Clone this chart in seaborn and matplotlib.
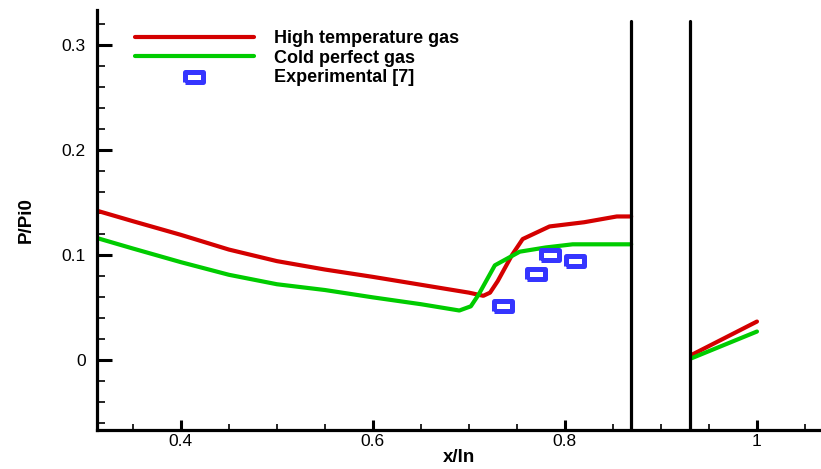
import numpy as np
import pandas as pd
import matplotlib
matplotlib.use("Agg")
import matplotlib.pyplot as plt
from matplotlib.ticker import MultipleLocator, FixedLocator, FixedFormatter
import seaborn as sns

# values
hot_x = [0.3125, 0.35, 0.40, 0.45, 0.50, 0.55, 0.60, 0.65, 0.70, 0.715,
         0.722, 0.73, 0.745, 0.756, 0.784, 0.82, 0.854, 0.869]
hot_y = [0.142, 0.132, 0.119, 0.105, 0.094, 0.086, 0.079, 0.0715, 0.064, 0.061,
         0.064, 0.075, 0.100, 0.115, 0.127, 0.131, 0.1365, 0.1365]
hot_x2 = [0.932, 1.0]
hot_y2 = [0.0048, 0.0365]

cold_x = [0.3125, 0.35, 0.40, 0.45, 0.50, 0.55, 0.60, 0.65, 0.69, 0.702,
          0.71, 0.727, 0.753, 0.78, 0.808, 0.869]
cold_y = [0.116, 0.106, 0.093, 0.081, 0.072, 0.0665, 0.0595, 0.053, 0.047, 0.051,
          0.062, 0.090, 0.103, 0.107, 0.110, 0.110]
cold_x2 = [0.932, 1.0]
cold_y2 = [0.0016, 0.027]

exp_x = [0.736, 0.770, 0.784, 0.810]
exp_y = [0.0514, 0.082, 0.100, 0.0937]

wall_x = [0.8688, 0.930]

x_ticks = [0.4, 0.6, 0.8, 1.0]
x_labels = ["0.4", "0.6", "0.8", "1"]
y_ticks = [0.0, 0.1, 0.2, 0.3]
y_labels = ["0", "0.1", "0.2", "0.3"]

labels = ["High temperature gas", "Cold perfect gas", "Experimental [7]"]

red = "#D40000"
green = "#00CC00"
blue = "#3535FF"

sns.set_style("ticks", {"axes.edgecolor": "black", "text.color": "black",
                        "xtick.color": "black", "ytick.color": "black",
                        "axes.labelcolor": "black"})
plt.rcParams["font.family"] = ["Liberation Sans", "DejaVu Sans"]

fig = plt.figure(figsize=(8.21, 4.69), dpi=100)
ax = fig.add_axes([0.118, 0.0832, 0.882, 0.8955])

sns.lineplot(x=hot_x, y=hot_y, color=red, lw=3, ax=ax, label=labels[0])
sns.lineplot(x=hot_x2, y=hot_y2, color=red, lw=3, ax=ax)
sns.lineplot(x=cold_x, y=cold_y, color=green, lw=3, ax=ax, label=labels[1])
sns.lineplot(x=cold_x2, y=cold_y2, color=green, lw=3, ax=ax)

# hollow, slightly wide square like the reference symbol
rect = [(-1.0, -0.62), (1.0, -0.62), (1.0, 0.62), (-1.0, 0.62), (-1.0, -0.62)]
sns.scatterplot(x=exp_x, y=exp_y, marker=rect, s=150, facecolor="white",
                edgecolor=blue, linewidth=3.6, ax=ax, label=labels[2], zorder=5)

# walls
for xv in wall_x:
    ax.axvline(xv, ymin=0, ymax=0.974, color="black", lw=2.3)

ax.set_xlim(0.3125, 1.0667)
ax.set_ylim(-0.0667, 0.333)

ax.xaxis.set_major_locator(FixedLocator(x_ticks))
ax.xaxis.set_major_formatter(FixedFormatter(x_labels))
ax.yaxis.set_major_locator(FixedLocator(y_ticks))
ax.yaxis.set_major_formatter(FixedFormatter(y_labels))
ax.xaxis.set_minor_locator(MultipleLocator(0.05))
ax.yaxis.set_minor_locator(MultipleLocator(0.02))

ax.tick_params(axis="both", which="both", direction="in", labelsize=12.5,
               colors="black")
ax.tick_params(axis="y", which="major", length=11, width=2.2, pad=8)
ax.tick_params(axis="y", which="minor", length=6, width=1.2)
ax.tick_params(axis="x", which="major", length=7.5, width=2.2, pad=3)
ax.tick_params(axis="x", which="minor", length=4, width=1.2)

sns.despine(ax=ax, top=True, right=True)
for s in ["left", "bottom"]:
    ax.spines[s].set_linewidth(2.3)

ax.set_xlabel("x/ln", fontsize=13.5, fontweight="bold", labelpad=0)
ax.set_ylabel("P/Pi0", fontsize=13.5, fontweight="bold", labelpad=19)

ax.legend(loc="upper left", bbox_to_anchor=(0.03, 0.99), frameon=False,
          handlelength=6.6, handletextpad=1.1, labelspacing=0.12,
          prop={"weight": "bold", "size": 13})

fig.savefig("out.png", dpi=100)
